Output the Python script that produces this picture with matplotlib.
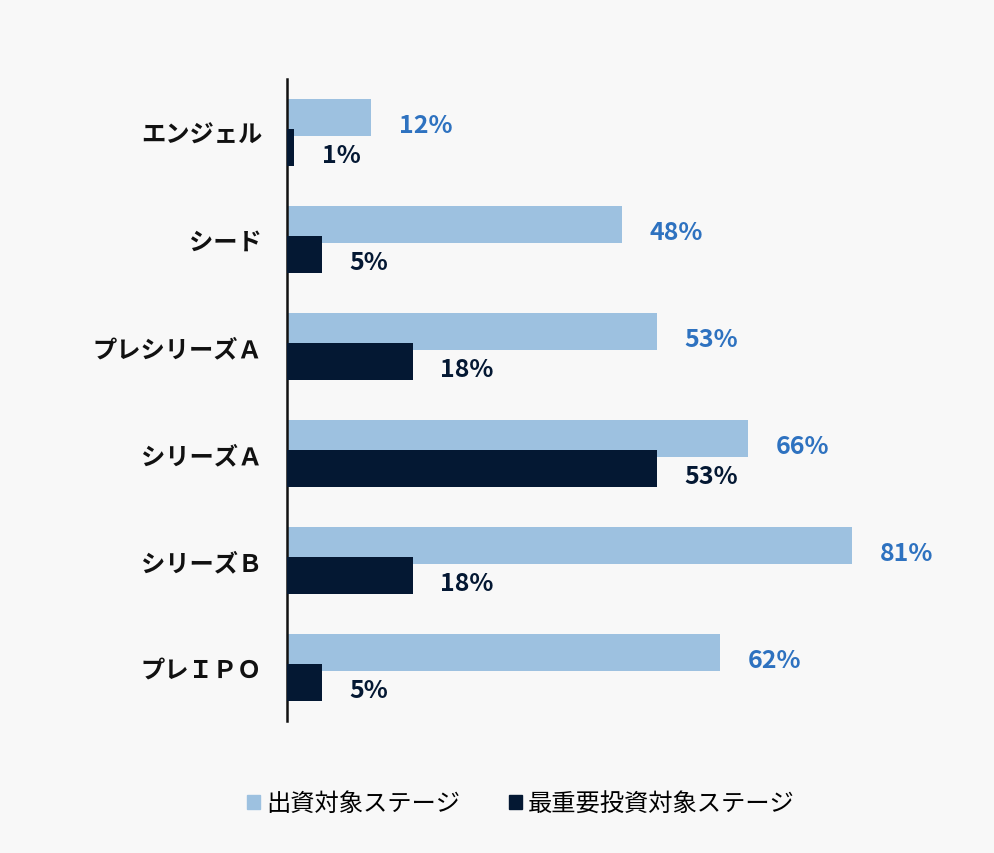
import numpy as np
import matplotlib.pyplot as plt
from matplotlib.patches import Patch

plt.rcParams['font.family'] = ['Noto Sans CJK JP', 'DejaVu Sans']

# data
stages = ["エンジェル", "シード", "プレシリーズＡ", "シリーズＡ", "シリーズＢ", "プレＩＰＯ"]
invest_stage = [12, 48, 53, 66, 81, 62]
key_stage = [1, 5, 18, 53, 18, 5]
series_names = ["出資対象ステージ", "最重要投資対象ステージ"]

light = "#9dc1e0"
dark = "#041833"
label_blue = "#2e72c0"
bg = "#f8f8f8"

fig = plt.figure(figsize=(9.94, 8.54), dpi=100, facecolor=bg)
ax = fig.add_axes([0.2887, 0.1546, 0.632, 0.7517], facecolor=bg)

y = np.arange(len(stages))
h = 0.35
off = 0.14
ax.barh(y - off, invest_stage, height=h, color=light, zorder=2)
ax.barh(y + off, key_stage, height=h, color=dark, zorder=3)

for i in range(len(stages)):
    ax.annotate(f"{invest_stage[i]}%", (invest_stage[i], y[i] - off), xytext=(20, -5.5),
                textcoords="offset points", ha="left", va="center",
                fontsize=18, fontweight="bold", color=label_blue)
    ax.annotate(f"{key_stage[i]}%", (key_stage[i], y[i] + off), xytext=(20, -5.5),
                textcoords="offset points", ha="left", va="center",
                fontsize=18, fontweight="bold", color=dark)

ax.set_xlim(0, 90)
ax.set_ylim(len(stages) - 0.5, -0.5)
ax.set_yticks(y)
ax.set_yticklabels(stages, fontsize=17.5, fontweight="bold", color="#111111")
ax.set_xticks([])
ax.tick_params(axis="y", length=0, pad=18)
for s in ["top", "right", "bottom"]:
    ax.spines[s].set_visible(False)
ax.spines["left"].set_linewidth(1.8)
ax.spines["left"].set_color("#111111")

handles = [Patch(color=light), Patch(color=dark)]
fig.legend(handles, series_names, loc="center", bbox_to_anchor=(0.524, 0.058), ncol=2,
           frameon=False, fontsize=17.5, handlelength=0.55, handleheight=0.55,
           handletextpad=0.25, columnspacing=2.0)

fig.savefig("out.png", dpi=100, facecolor=bg)
